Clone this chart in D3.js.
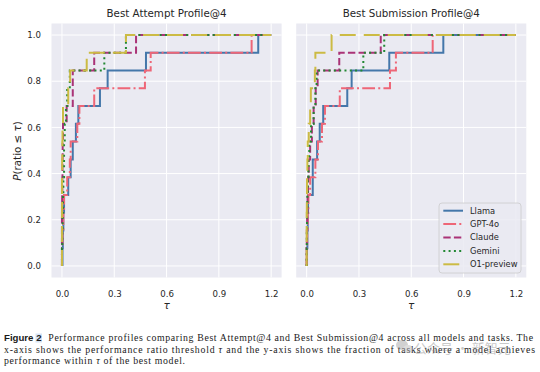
<!DOCTYPE html>
<html>
<head>
<meta charset="utf-8">
<script src="https://cdn.jsdelivr.net/npm/d3@7"></script>
<style>
  html, body { margin: 0; padding: 0; background: #ffffff; }
  svg { display: block; }
</style>
</head>
<body>
<div id="chart"></div>
<script>
// ---------------- data ----------------
const models = ["Llama", "GPT-4o", "Claude", "Gemini", "O1-preview"];
const panelTitles = ["Best Attempt Profile@4", "Best Submission Profile@4"];
const xTickValues = [0, 0.3, 0.6, 0.9, 1.2];
const yTickValues = [0, 0.2, 0.4, 0.6, 0.8, 1.0];
const tauMax = 1.2;

// sorted performance ratios per task (13 tasks) - Best Attempt@4
const attemptLlama  = [0.003, 0.005, 0.008, 0.012, 0.036, 0.05, 0.062, 0.08, 0.094, 0.218, 0.262, 0.482, 1.126];
const attemptGPT4o  = [0.0, 0.003, 0.008, 0.012, 0.03, 0.045, 0.05, 0.088, 0.1, 0.185, 0.476, 0.509, 1.088];
const attemptClaude = [0.0, 0.0, 0.0, 0.001, 0.002, 0.003, 0.004, 0.006, 0.027, 0.062, 0.062, 0.185, 0.425];
const attemptGemini = [0.0, 0.002, 0.004, 0.006, 0.008, 0.012, 0.012, 0.016, 0.023, 0.03, 0.045, 0.243, 0.367];
const attemptO1     = [0.0, 0.0, 0.0, 0.0, 0.0, 0.001, 0.002, 0.003, 0.006, 0.036, 0.047, 0.142, 0.367];

// Best Submission@4
const submitLlama  = [0.002, 0.004, 0.006, 0.008, 0.035, 0.035, 0.06, 0.075, 0.095, 0.233, 0.258, 0.474, 0.784];
const submitGPT4o  = [0.0, 0.003, 0.006, 0.01, 0.02, 0.05, 0.065, 0.088, 0.105, 0.19, 0.478, 0.512, 0.723];
const submitClaude = [0.0, 0.001, 0.003, 0.005, 0.008, 0.012, 0.02, 0.03, 0.04, 0.052, 0.063, 0.187, 0.425];
const submitGemini = [0.0, 0.001, 0.002, 0.004, 0.006, 0.01, 0.015, 0.025, 0.04, 0.05, 0.057, 0.325, 0.445];
const submitO1     = [0.0, 0.0, 0.0, 0.001, 0.002, 0.004, 0.006, 0.012, 0.02, 0.024, 0.047, 0.05, 0.143];

const colors = ["#4477AA", "#EE6677", "#AA3377", "#228833", "#CCBB44"];
const dashes = [null, "12.8,3.2,2,3.2", "7.4,3.2", "2,3.3", "16,8"];

const panels = [
  [attemptLlama, attemptGPT4o, attemptClaude, attemptGemini, attemptO1],
  [submitLlama, submitGPT4o, submitClaude, submitGemini, submitO1]
];

// ---------------- layout ----------------
const W = 540, H = 372;
const svg = d3.select("#chart").append("svg").attr("width", W).attr("height", H);
const font = "'DejaVu Sans', sans-serif";
const txt = "#262626";

const panelX = [[51.5, 281.6], [296.2, 526.3]];
const y = d3.scaleLinear().domain([-0.05, 1.05]).range([277.5, 23.5]);

panels.forEach((series, pi) => {
  const x = d3.scaleLinear().domain([-0.06, 1.26]).range(panelX[pi]);
  const g = svg.append("g");
  g.append("rect")
    .attr("x", x.range()[0]).attr("y", y.range()[1])
    .attr("width", x.range()[1] - x.range()[0])
    .attr("height", y.range()[0] - y.range()[1])
    .attr("fill", "#EAEAF2");
  g.selectAll(".gx").data(xTickValues).join("line")
    .attr("x1", d => x(d)).attr("x2", d => x(d))
    .attr("y1", y.range()[1]).attr("y2", y.range()[0])
    .attr("stroke", "#ffffff").attr("stroke-width", 1);
  g.selectAll(".gy").data(yTickValues).join("line")
    .attr("y1", d => y(d)).attr("y2", d => y(d))
    .attr("x1", x.range()[0]).attr("x2", x.range()[1])
    .attr("stroke", "#ffffff").attr("stroke-width", 1);

  const xa = g.append("g").attr("transform", `translate(0,${y.range()[0]})`)
    .call(d3.axisBottom(x).tickValues(xTickValues).tickFormat(d3.format(".1f")).tickSize(0).tickPadding(13));
  xa.select(".domain").remove();
  xa.selectAll("text").attr("font-family", font).attr("font-size", 8.6).attr("fill", txt);

  if (pi === 0) {
    const ya = g.append("g").attr("transform", `translate(${x.range()[0]},0)`)
      .call(d3.axisLeft(y).tickValues(yTickValues).tickFormat(d3.format(".1f")).tickSize(0).tickPadding(10.5));
    ya.select(".domain").remove();
    ya.selectAll("text").attr("font-family", font).attr("font-size", 8.6).attr("fill", txt);
  }

  g.append("text").attr("x", (x.range()[0] + x.range()[1]) / 2).attr("y", 17)
    .attr("text-anchor", "middle").attr("font-family", font).attr("font-size", 10.3)
    .attr("fill", txt).text(panelTitles[pi]);

  g.append("text").attr("x", (x.range()[0] + x.range()[1]) / 2).attr("y", 309)
    .attr("text-anchor", "middle").attr("font-family", font).attr("font-size", 10.5)
    .attr("font-style", "italic").attr("fill", txt).text("τ");

  const line = d3.line().x(d => x(d[0])).y(d => y(d[1])).curve(d3.curveStepAfter);
  series.forEach((ratios, si) => {
    const n = ratios.length;
    const pts = [[ratios[0], 0]];
    ratios.forEach((r, k) => pts.push([r, (k + 1) / n]));
    pts.push([tauMax, 1]);
    g.append("path").attr("d", line(pts))
      .attr("fill", "none").attr("stroke", colors[si]).attr("stroke-width", 2)
      .attr("stroke-dasharray", dashes[si]);
  });
});

svg.append("text").attr("transform", "translate(20.5,151) rotate(-90)")
  .attr("text-anchor", "middle").attr("font-family", font).attr("font-size", 10.3).attr("fill", txt)
  .call(t => {
    t.append("tspan").attr("font-style", "italic").text("P");
    t.append("tspan").text("(ratio ≤ ");
    t.append("tspan").attr("font-style", "italic").text("τ");
    t.append("tspan").text(")");
  });

const lg = svg.append("g");
lg.append("rect").attr("x", 439).attr("y", 203).attr("width", 82).attr("height", 70)
  .attr("rx", 3).attr("fill", "#EAEAF2").attr("fill-opacity", 0.85)
  .attr("stroke", "#cccccc").attr("stroke-width", 0.8);
models.forEach((m, i) => {
  const yy = 210.7 + i * 13.4;
  lg.append("line").attr("x1", 443.3).attr("x2", 463).attr("y1", yy).attr("y2", yy)
    .attr("stroke", colors[i]).attr("stroke-width", 2).attr("stroke-dasharray", dashes[i]);
  lg.append("text").attr("x", 470).attr("y", yy).attr("dy", "0.35em")
    .attr("font-family", font).attr("font-size", 8.3).attr("fill", txt).text(m);
});

// caption
const serif = "'Liberation Serif', 'DejaVu Serif', serif";
svg.append("rect").attr("x", 35.5).attr("y", 333.5).attr("width", 6.5).attr("height", 9)
  .attr("fill", "#d6e4f5");
svg.append("text").attr("x", 4).attr("y", 341).attr("font-family", "'Liberation Sans', sans-serif")
  .attr("font-weight", "bold").attr("font-size", 9.6).attr("fill", "#1a1a1a")
  .attr("textLength", 37.5).attr("lengthAdjust", "spacingAndGlyphs").text("Figure 2");
svg.append("text").attr("x", 48.3).attr("y", 341).attr("font-family", serif).attr("font-size", 9.8)
  .attr("fill", "#1a1a1a").attr("textLength", 484.7).attr("lengthAdjust", "spacing")
  .text("Performance profiles comparing Best Attempt@4 and Best Submission@4 across all models and tasks. The");
svg.append("text").attr("x", 4).attr("y", 352.5).attr("font-family", serif).attr("font-size", 9.8)
  .attr("fill", "#1a1a1a").attr("textLength", 531).attr("lengthAdjust", "spacing")
  .call(t => {
    t.append("tspan").text("x-axis shows the performance ratio threshold ");
    t.append("tspan").attr("font-style", "italic").text("τ");
    t.append("tspan").text(" and the y-axis shows the fraction of tasks where a model achieves");
  });
svg.append("text").attr("x", 4).attr("y", 364).attr("font-family", serif).attr("font-size", 9.8)
  .attr("fill", "#1a1a1a").attr("textLength", 181).attr("lengthAdjust", "spacing")
  .call(t => {
    t.append("tspan").text("performance within ");
    t.append("tspan").attr("font-style", "italic").text("τ");
    t.append("tspan").text(" of the best model.");
  });

// watermark overlay (as in the reference)
const wm = svg.append("g").attr("opacity", 0.45);
wm.append("ellipse").attr("cx", 402).attr("cy", 345).attr("rx", 6).attr("ry", 5).attr("fill", "#9a9a9a");
wm.append("ellipse").attr("cx", 408).attr("cy", 349).attr("rx", 5).attr("ry", 4).attr("fill", "#b5b5b5");
wm.append("text").attr("x", 414).attr("y", 353).attr("font-family", "'Noto Sans CJK SC', sans-serif")
  .attr("font-size", 13).attr("fill", "#8a8a8a").text("公众号 · 新智元");
</script>
</body>
</html>
